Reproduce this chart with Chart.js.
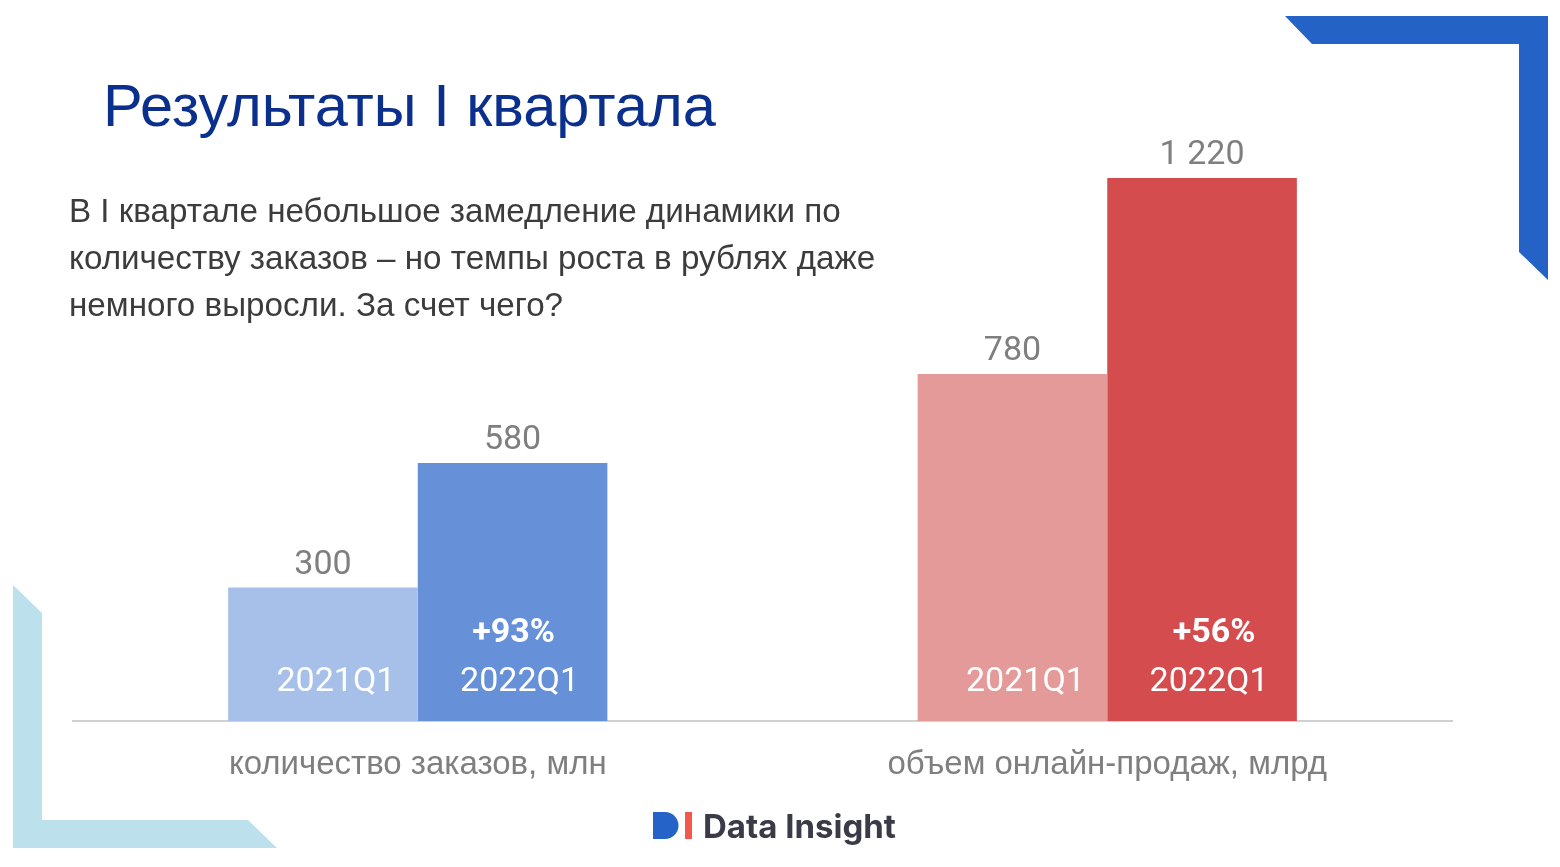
<!DOCTYPE html>
<html><head><meta charset="utf-8">
<script src="https://cdn.jsdelivr.net/npm/chart.js@4.4.0/dist/chart.umd.min.js"></script>
<style>
html,body{margin:0;padding:0;background:#fff;width:1560px;height:867px;overflow:hidden;}
#wrap{position:relative;width:1560px;height:867px;}
#c{position:absolute;left:0;top:0;}
.t{position:absolute;white-space:nowrap;font-family:"Liberation Sans",Arial,sans-serif;line-height:1;display:inline-block;}
</style></head><body>
<div id="wrap">
<svg width="1560" height="867" style="position:absolute;left:0;top:0">
  <polygon points="1285,16 1548,16 1548,280 1519,252 1519,44 1312,44" fill="#2462c6"/>
  <polygon points="13,585 42,613 42,820 248,820 277,848 13,848" fill="#bce0ec"/>
  <path d="M653,812 H665 A13.5,13.5 0 0 1 665,839 H653 Z" fill="#2563c9"/>
  <rect x="685" y="812" width="7" height="27" fill="#f2594b"/>
</svg>
<canvas id="c" width="1560" height="867"></canvas>
<div id="title" class="t" style="color:#0a2f8c;">Результаты I квартала</div>
<div id="s1" class="t" style="color:#3c3c3c;">В I квартале небольшое замедление динамики по</div>
<div id="s2" class="t" style="color:#3c3c3c;">количеству заказов – но темпы роста в рублях даже</div>
<div id="s3" class="t" style="color:#3c3c3c;">немного выросли. За счет чего?</div>
<div id="logo" class="t" style="color:#3b3a47;font-family:Inter,'Noto Sans',sans-serif;font-weight:700;">Data Insight</div>
</div>
<script>
// ---- data ----
const categories = ["количество заказов, млн", "объем онлайн-продаж, млрд"];
const periods = ["2021Q1", "2022Q1"];
const values2021 = [300, 780];
const values2022 = [580, 1220];
const lightColors = ["#a7c0ea", "#e59a9a"];
const darkColors = ["#6690d8", "#d44c4e"];

function fmt(v){ return String(v).replace(/\B(?=(\d{3})+(?!\d))/g, ' '); }

function place(id, left, baseline, targetW, baseFs, fixedFs){
  const el = document.getElementById(id);
  let fs = baseFs;
  el.style.fontSize = fs + 'px';
  if (targetW && !fixedFs){
    const w = el.getBoundingClientRect().width;
    fs = baseFs * targetW / w;
    el.style.fontSize = fs + 'px';
  }
  el.style.left = left + 'px';
  el.style.top = (baseline - 0.8465 * fs) + 'px';
  return fs;
}
const tf = place('title', 103, 126, 613, 50);
const sf = place('s1', 69, 222, 772, 30);
place('s2', 69, 269, null, sf, true);
place('s3', 69, 316, null, sf, true);
(function(){
  const el = document.getElementById('logo');
  el.style.fontSize = '32px';
  const w = el.getBoundingClientRect().width;
  const fs = 32 * 193 / w;
  el.style.fontSize = fs + 'px';
  el.style.left = '703px';
  el.style.top = (840 - 0.9 * fs) + 'px';
})();

const labelPlugin = {
  id: 'barLabels',
  afterDatasetsDraw(chart){
    const ctx = chart.ctx;
    const periodShift = [13, 7];
    const pctShift = [1, 12];
    chart.data.datasets.forEach((ds, di) => {
      const meta = chart.getDatasetMeta(di);
      meta.data.forEach((bar, i) => {
        const v = ds.data[i];
        ctx.save();
        ctx.textAlign = 'center';
        ctx.textBaseline = 'alphabetic';
        ctx.fillStyle = '#7f7f7f';
        ctx.font = '34px Roboto';
        ctx.fillText(fmt(v), bar.x, bar.y - 14);
        ctx.fillStyle = '#ffffff';
        ctx.font = '34px Roboto';
        ctx.fillText(ds.label, bar.x + periodShift[di], bar.base - 30);
        if (di === 1) {
          const g = Math.round((v / values2021[i] - 1) * 100);
          ctx.font = 'bold 34px Roboto';
          ctx.fillText('+' + g + '%', bar.x + pctShift[i], bar.base - 79);
        }
        ctx.restore();
      });
    });
  }
};

new Chart(document.getElementById('c').getContext('2d'), {
  type: 'bar',
  data: {
    labels: categories,
    datasets: [
      { label: periods[0], data: values2021, backgroundColor: lightColors, borderWidth: 0 },
      { label: periods[1], data: values2022, backgroundColor: darkColors, borderWidth: 0 }
    ]
  },
  options: {
    responsive: false,
    animation: false,
    devicePixelRatio: 1,
    layout: { padding: { left: 73, right: 108, top: 98, bottom: 0 } },
    plugins: { legend: { display: false }, tooltip: { enabled: false } },
    datasets: { bar: { categoryPercentage: 0.55, barPercentage: 1.0 } },
    scales: {
      x: {
        grid: { display: false, drawTicks: false },
        border: { display: true, color: '#d0d0d0', width: 2 },
        ticks: { color: '#7f7f7f', font: { family: 'Liberation Sans', size: 33 }, padding: 24 },
        afterFit(s){ s.height = 146; }
      },
      y: { display: false, min: 0, max: 1400 }
    }
  },
  plugins: [labelPlugin]
});
</script>
</body></html>
